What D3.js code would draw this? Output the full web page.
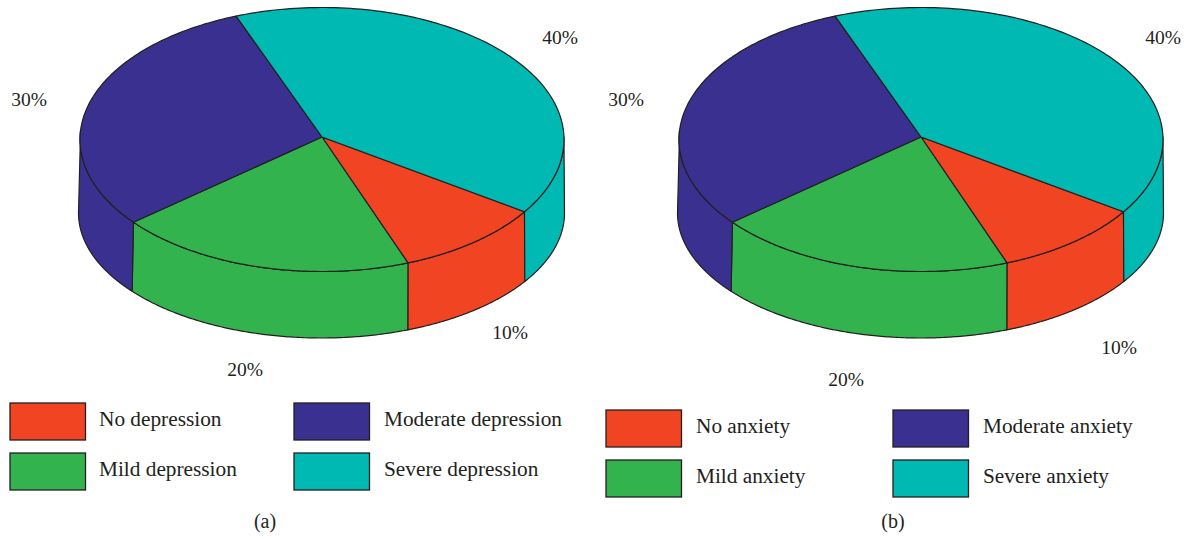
<!DOCTYPE html>
<html>
<head>
<meta charset="utf-8">
<script src="https://cdnjs.cloudflare.com/ajax/libs/d3/7.8.5/d3.min.js"></script>
<style>
  html, body { margin: 0; padding: 0; background: #fff; }
  svg { display: block; }
  text { font-family: "Liberation Serif", serif; fill: #231f20; }
</style>
</head>
<body>
<svg id="chart" width="1190" height="539"></svg>
<script>
const shares = [10, 20, 30, 40];
const shareLabels = ["10%", "20%", "30%", "40%"];
const colors = ["#f04423", "#32b34e", "#3a3090", "#00b9b2"];
const depressionNames = ["No depression", "Mild depression", "Moderate depression", "Severe depression"];
const anxietyNames = ["No anxiety", "Mild anxiety", "Moderate anxiety", "Severe anxiety"];

const panels = [
  {
    caption: "(a)", captionX: 265, dx: 0, names: depressionNames,
    labelPos: [[510, 333], [245, 370], [29, 100], [560, 38]],
    legendY: [403, 453], legendX: [10, 294], legendTextX: [99, 384]
  },
  {
    caption: "(b)", captionX: 893, dx: 599, names: anxietyNames,
    labelPos: [[1119, 348], [846, 380], [626, 100], [1163, 38]],
    legendY: [410, 460], legendX: [606, 893], legendTextX: [696, 983]
  }
];

const svg = d3.select("#chart");
const ink = "#231f20";
const rad = d => d * Math.PI / 180;

// d3.pie angles run clockwise from 12 o'clock; the first slice starts just past 123 degrees
const pie = d3.pie().sort(null).startAngle(rad(123.2)).endAngle(rad(483.2));

function ellipse(cx, cy, rx, ry) {
  return a => [cx + rx * Math.sin(a), cy - ry * Math.cos(a)];
}

function drawPie(panel) {
  const topRim = ellipse(322 + panel.dx, 139.5, 242, 132);
  const baseRim = ellipse(321.5 + panel.dx, 213, 243, 125);
  const hub = [322 + panel.dx, 137];
  const line = d3.line();
  const sample = (a0, a1) => d3.range(0, 121).map(i => a0 + (a1 - a0) * i / 120);
  const g = svg.append("g");

  const arcs = pie(shares);

  // Outer wall: the rim between 3 and 9 o'clock faces the viewer, and the
  // upper edge runs slightly further round so the silhouette meets the top face
  const baseFrom = rad(90), baseTo = rad(270);
  const topFrom = rad(89), topTo = rad(274);
  arcs.forEach((d, i) => {
    [0, 2 * Math.PI].forEach(turn => {
      const a0 = d.startAngle - turn, a1 = d.endAngle - turn;
      if (Math.min(a1, baseTo) <= Math.max(a0, baseFrom)) return;
      const upper = sample(Math.max(a0, topFrom), Math.min(a1, topTo));
      const lower = sample(Math.max(a0, baseFrom), Math.min(a1, baseTo));
      const pts = upper.map(topRim).concat(lower.reverse().map(baseRim));
      g.append("path")
        .attr("d", line(pts) + "Z")
        .attr("fill", colors[i])
        .attr("stroke", ink)
        .attr("stroke-width", 1.2)
        .attr("stroke-linejoin", "round");
    });
  });

  // Top face
  arcs.forEach((d, i) => {
    const pts = [hub].concat(sample(d.startAngle, d.endAngle).map(topRim));
    g.append("path")
      .attr("d", line(pts) + "Z")
      .attr("fill", colors[i])
      .attr("stroke", ink)
      .attr("stroke-width", 1.2)
      .attr("stroke-linejoin", "round");
  });

  // Percentage labels
  g.selectAll("text.share")
    .data(shareLabels)
    .join("text")
    .attr("class", "share")
    .attr("x", (d, i) => panel.labelPos[i][0])
    .attr("y", (d, i) => panel.labelPos[i][1] + 6)
    .attr("text-anchor", "middle")
    .attr("font-size", 19.5)
    .text(d => d);

  // Legend: two columns, two rows
  panel.names.forEach((name, i) => {
    const col = i < 2 ? 0 : 1, row = i % 2;
    g.append("rect")
      .attr("x", panel.legendX[col]).attr("y", panel.legendY[row])
      .attr("width", 75.5).attr("height", 37)
      .attr("fill", colors[i])
      .attr("stroke", ink).attr("stroke-width", 1.3);
    g.append("text")
      .attr("x", panel.legendTextX[col]).attr("y", panel.legendY[row] + 23)
      .attr("font-size", 21.3)
      .text(name);
  });

  g.append("text")
    .attr("x", panel.captionX).attr("y", 528)
    .attr("text-anchor", "middle")
    .attr("font-size", 20)
    .text(panel.caption);
}

panels.forEach(drawPie);
</script>
</body>
</html>
